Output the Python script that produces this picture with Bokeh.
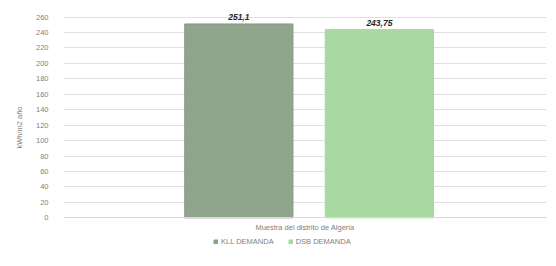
from bokeh.plotting import figure
from bokeh.models import ColumnDataSource, FactorRange, Range1d, Legend, LegendItem, FixedTicker, LabelSet
from bokeh.transform import dodge
from bokeh.core.properties import value
from bokeh.embed import file_html
from bokeh.resources import INLINE

category = ["Muestra del distrito de Algeria"]
series = ["KLL DEMANDA", "DSB DEMANDA"]
values = [251.1, 243.75]
value_labels = ["251,1", "243,75"]
y_ticks = list(range(0, 261, 20))
colors = ["#8fa68c", "#a8d9a1"]
outline = ["#8a958a", "#a8d9a1"]

FONT = "Liberation Sans"
GRAY = "#7f7f7f"

p = figure(frame_width=483, frame_height=244, x_range=FactorRange(*category, range_padding=0),
           y_range=Range1d(-41, 275), output_backend="svg", toolbar_location=None,
           min_border_left=63, min_border_right=6, min_border_top=5, min_border_bottom=0)
p.outline_line_color = None
p.background_fill_color = "white"
p.border_fill_color = "white"

offsets = [-0.137, 0.154]
renderers = []
for i in range(2):
    src = ColumnDataSource(dict(x=category, top=[values[i]], lab=[value_labels[i]]))
    r = p.vbar(x=dodge("x", offsets[i], range=p.x_range), top="top", bottom=0, width=0.224, source=src,
               fill_color=colors[i], line_color=outline[i], line_width=1)
    labels = LabelSet(x=dodge("x", offsets[i], range=p.x_range), y="top", text="lab", source=src,
                      text_align="center", text_baseline="bottom", y_offset=4,
                      text_font_size="8.5px", text_font_style="bold italic", text_color="#262626",
                      text_font=value(FONT))
    p.add_layout(labels)
    renderers.append(r)

p.yaxis.ticker = FixedTicker(ticks=y_ticks)
p.yaxis.axis_line_color = None
p.yaxis.major_tick_line_color = None
p.yaxis.minor_tick_line_color = None
p.yaxis.major_label_text_font_size = "7.5px"
p.yaxis.major_label_text_color = GRAY
p.yaxis.major_label_text_font = FONT
p.yaxis.major_label_standoff = 9
p.yaxis.axis_label = "kWh/m2 año"
p.yaxis.axis_label_text_font_size = "7.5px"
p.yaxis.axis_label_text_font_style = "normal"
p.yaxis.axis_label_text_color = GRAY
p.yaxis.axis_label_text_font = FONT
p.yaxis.axis_label_standoff = 9

p.xaxis.fixed_location = 0
p.xaxis.axis_line_color = "#d9d9d9"
p.xaxis.major_tick_line_color = None
p.xaxis.minor_tick_line_color = None
p.xaxis.major_tick_out = 0
p.xaxis.major_tick_in = 0
p.xaxis.major_label_text_font_size = "7.5px"
p.xaxis.major_label_text_color = GRAY
p.xaxis.major_label_text_font = FONT
p.xaxis.major_label_standoff = 5
p.xaxis.axis_label_standoff = 0

p.xgrid.grid_line_color = None
p.ygrid.grid_line_color = "#e0e0e0"
p.ygrid.ticker = FixedTicker(ticks=y_ticks)

legend = Legend(items=[LegendItem(label=series[i], renderers=[renderers[i]]) for i in range(2)],
                orientation="horizontal", location=(150, 3),
                label_text_font_size="7.5px", label_text_color=GRAY,
                label_text_font=FONT, label_height=8, label_standoff=3,
                glyph_width=5, glyph_height=5, spacing=14, padding=0, margin=0,
                border_line_color=None, background_fill_alpha=0)
p.add_layout(legend, "center")

open("out.html", "w").write(file_html(p, INLINE))
